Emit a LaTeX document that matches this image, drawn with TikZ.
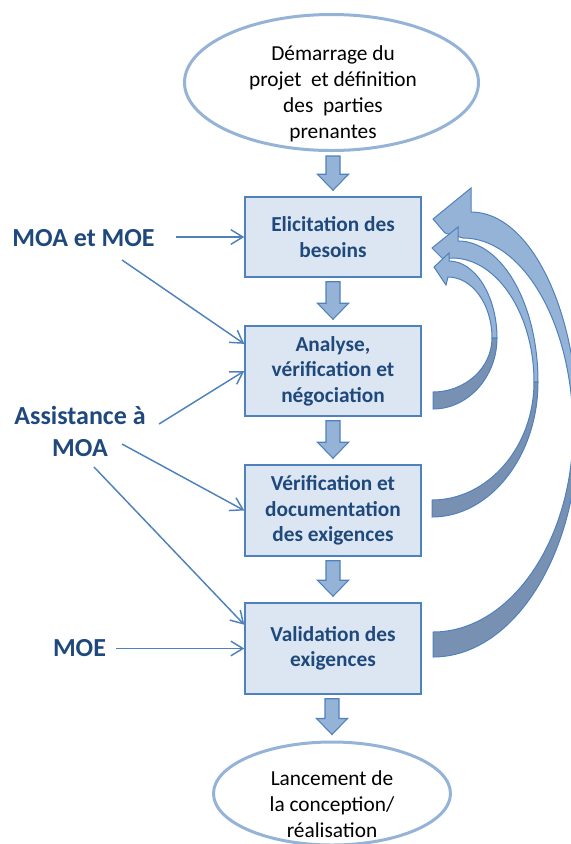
\documentclass[tikz,border=0pt]{standalone}
\usepackage{fontspec}
\setmainfont{Carlito}
\usetikzlibrary{arrows.meta,calc,shapes.geometric}
\definecolor{bordure}{HTML}{4F81BD}
\definecolor{fond}{HTML}{DCE6F2}
\definecolor{bleufonce}{HTML}{1F497D}
\definecolor{bleumoyen}{HTML}{95B3D7}
\definecolor{ombre}{HTML}{7891B3}

% grosse fleche entre deux etapes
\newcommand{\fleche}[2]{%
  \draw[bloc] ($(#2.north |- #1.south)+(-7,4)$) -- ($(#2.north |- #1.south)+(7,4)$)
    -- ($(#2.north)+(7,-22)$) -- ($(#2.north)+(15.5,-22)$) -- ($(#2.north)+(0,-6)$)
    -- ($(#2.north)+(-15.5,-22)$) -- ($(#2.north)+(-7,-22)$) -- cycle;}

\begin{document}
\begin{tikzpicture}[x=0.75pt,y=-0.75pt,
    etape/.style={draw=bordure,fill=fond,line width=1.1pt,minimum width=132pt,align=center,
      text=bleufonce,font=\fontsize{16}{19}\selectfont\bfseries},
    bulle/.style={draw=bleumoyen,fill=white,line width=2.25pt,ellipse,inner sep=0pt},
    txtbulle/.style={align=center,font=\fontsize{16}{19.5}\selectfont},
    acteur/.style={align=center,text=bleufonce,font=\fontsize{19.5}{24}\selectfont\bfseries},
    liaison/.style={color=bordure,line width=1.1pt,-{Straight Barb[length=9pt,width=11pt]}},
    bloc/.style={draw=bordure,fill=bleumoyen,line width=0.8pt},
    courbe/.style={draw=bordure,fill=bleumoyen,line width=0.75pt},
    courbeombre/.style={draw=bordure,fill=ombre,line width=0.75pt}]
  \clip (0,0) rectangle (571,844);

  \node[bulle,minimum width=220.5pt,minimum height=102pt] (debut) at (331.5,82.5) {};
  \node[txtbulle] (tdebut) at (333,94) {Démarrage du\\projet~ et définition\\des~ parties\\prenantes};
  \node[etape,minimum height=60pt] (b1) at (333,237) {Elicitation des\\besoins};
  \node[etape,minimum height=67.5pt] (b2) at (333,371) {Analyse,\\vérification et\\négociation};
  \node[etape,minimum height=68.25pt] (b3) at (333,510.5) {Vérification et\\documentation\\des exigences};
  \node[etape,minimum height=68.25pt] (b4) at (333,648.5) {Validation des\\exigences};
  \node[bulle,minimum width=177.75pt,minimum height=77.25pt] (fin) at (332,793.5) {};
  \node[txtbulle] (tfin) at (332,804) {Lancement de\\la conception/\\réalisation};

  \fleche{debut}{b1}
  \fleche{b1}{b2}
  \fleche{b2}{b3}
  \fleche{b3}{b4}
  \fleche{b4}{fin}

  % intervenants
  \node[acteur] (moa) at (83.5,238) {MOA et MOE};
  \node[acteur] (amoa) at (80,431) {Assistance à\\MOA};
  \node[acteur] (moe) at (79.5,648) {MOE};
  \coordinate (d1) at (176,237);
  \coordinate (d2) at (122,260);
  \coordinate (d3) at (159,424);
  \coordinate (d4) at (122,444);
  \coordinate (d5) at (94,467);
  \coordinate (d6) at (116,648.5);
  \path[liaison]
    (d1) edge (b1.west)
    (d2) edge (b2.163.5)
    (d3) edge (b2.west)
    (d4) edge (b3.west)
    (d5) edge (b4.165)
    (d6) edge (b4.west);

  % retours
  \draw[courbe] (578,430) .. controls +(0,-120) and +(59,0) .. (471,212) -- (471,188) -- (433,219)
    -- (445,233) -- (463,238) .. controls +(60,0) and +(0,-106) .. (573,430) -- cycle;
  \draw[courbeombre] (578,430) .. controls +(0,125) and +(80,0) .. (433,657) -- (433,632)
    .. controls +(77,0) and +(0,111) .. (573,430) -- cycle;
  \draw[courbe] (538,382) .. controls +(0,-78) and +(44,0) .. (458,241) -- (458,227) -- (432,248)
    -- (443,259) -- (452,258) .. controls +(45,0) and +(0,-68) .. (534,382) -- cycle;
  \draw[courbeombre] (538,382) .. controls +(0,74) and +(58,0) .. (432,517) -- (432,500)
    .. controls +(56,0) and +(0,65) .. (534,382) -- cycle;
  \draw[courbe] (497,338) .. controls +(0,-42) and +(26,0) .. (449,261) -- (449,253) -- (434,267)
    -- (446,285) -- (448,277) .. controls +(24,0) and +(0,-34) .. (492,338) -- cycle;
  \draw[courbeombre] (497,338) .. controls +(0,39) and +(35,0) .. (433,409) -- (433,392)
    .. controls +(32,0) and +(0,30) .. (492,338) -- cycle;
\end{tikzpicture}
\end{document}
